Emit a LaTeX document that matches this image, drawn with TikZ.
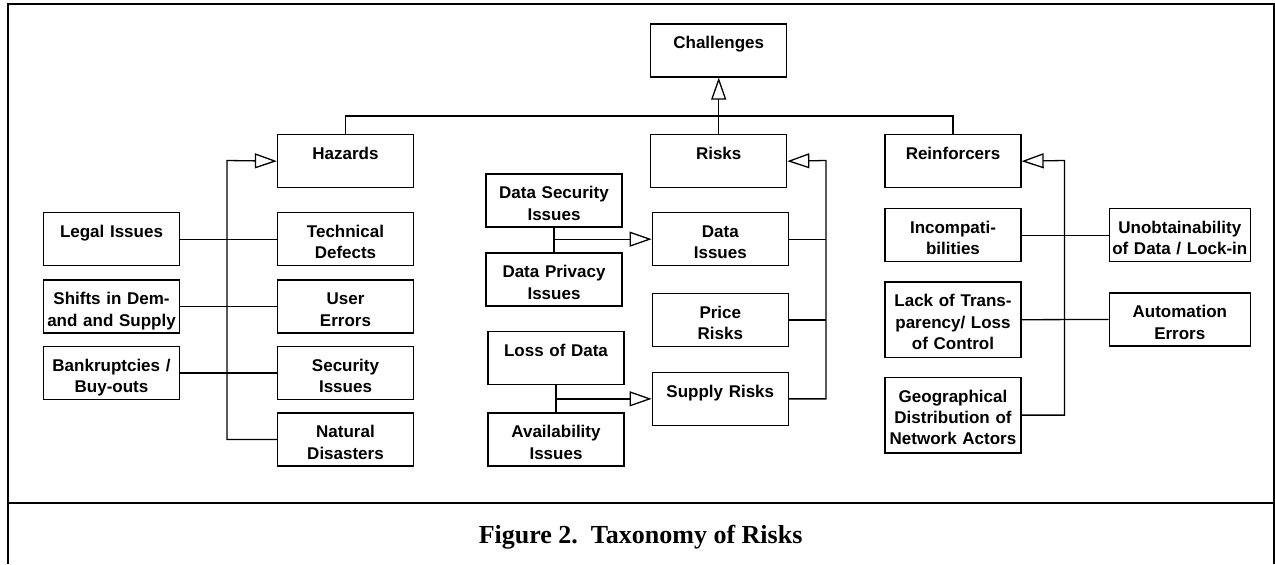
\documentclass[tikz,border=0pt]{standalone}
\usepackage{fontspec}
\setmainfont{Liberation Serif}
\newfontfamily\diagfont{Liberation Sans}
\usetikzlibrary{arrows.meta,calc}

\tikzset{
  box/.style={draw, line width=0.65pt, anchor=north, align=center,
    text width=66pt, inner xsep=1pt, inner ysep=0pt,
    text height=12.4pt, text depth=14.1pt,
    font={\diagfont\bfseries\fontsize{8.5}{10.7}\selectfont}},
  tallbox/.style={box, text depth=25.35pt},
  widebox/.style={box, text width=68.5pt},
  link/.style={line width=0.65pt},
  gen/.style={link, -{Triangle[open,length=11pt,width=7.5pt]}},
}

\begin{document}
\begin{tikzpicture}[x=0.5pt,y=-0.5pt]

  \useasboundingbox (0,0) rectangle (1275,564);

  % ramecek a popisek
  \draw[line width=1pt] (7.7,564) -- (7.7,3.7) -- (1273.5,3.7) -- (1273.5,564);
  \draw[line width=1pt] (7.7,502.8) -- (1273.5,502.8);
  \node[font={\bfseries\fontsize{13}{15}\selectfont}, anchor=base] (caption)
       at (640.6,543) {Figure 2.~~Taxonomy of Risks};

  % horni uroven
  \node[box] (challenges)  at (718.7,23.3) {Challenges};
  \node[box] (hazards)     at (345.5,134)  {Hazards};
  \node[box] (risks)       at (718.7,134)  {Risks};
  \node[box] (reinforcers) at (953,134)    {Reinforcers};

  \coordinate (bus) at (718.7,116);
  \draw[link] (hazards.north) |- (bus) -| (reinforcers.north);
  \draw[gen] (risks.north) -- (challenges.south);

  % hazards
  \node[box] (legal)     at (111.5,212)   {Legal Issues};
  \node[box] (shifts)    at (111.5,279.3) {Shifts in Dem-\\and and Supply};
  \node[box] (bankrupt)  at (111.5,345.7) {Bankruptcies /\\Buy-outs};
  \node[box] (technical) at (345.5,212)   {Technical\\Defects};
  \node[box] (user)      at (345.5,279.3) {User\\Errors};
  \node[box] (security)  at (345.5,345.7) {Security\\Issues};
  \node[box] (natural)   at (345.5,412.3) {Natural\\Disasters};

  \coordinate (hzbus) at (227,160.5);
  \draw[gen] (natural.west) -| (hzbus) -- (hazards.west);
  \draw[link] (legal.east) -- (technical.west);
  \draw[link] (shifts.east) -- (user.west);
  \draw[link] (bankrupt.east) -- (security.west);

  % risks
  \node[box] (datasec)  at (554,173.3) {Data Security\\Issues};
  \node[box] (datapriv) at (554,252.3) {Data Privacy\\Issues};
  \node[box] (loss)     at (556,330.7) {Loss of Data};
  \node[box] (avail)    at (556,412.3) {Availability\\Issues};
  \node[box] (dataiss)  at (720.3,212)   {Data\\Issues};
  \node[box] (price)    at (720.3,292.7) {Price\\Risks};
  \node[box] (supply)   at (720.3,371.7) {Supply Risks};

  \coordinate (rkbus) at (826,160.5);
  \draw[gen] (supply.east) -| (rkbus) -- (risks.east);
  \draw[link] (dataiss.east) -- (dataiss.east -| rkbus);
  \draw[link] (price.east) -- (price.east -| rkbus);

  \draw[link] (datasec.south) -- (datapriv.north);
  \draw[gen] (datasec.south |- dataiss.west) -- (dataiss.west);
  \draw[link] (loss.south) -- (avail.north);
  \draw[gen] (loss.south |- supply.west) -- (supply.west);

  % reinforcers
  \node[box]     (incomp) at (953,208)   {Incompati-\\bilities};
  \node[tallbox] (lack)   at (953,281.3) {Lack of Trans-\\parency/ Loss\\of Control};
  \node[tallbox] (geo)    at (953,376.7) {Geographical\\Distribution of\\Network Actors};
  \node[widebox] (unobt)  at (1179.8,208)   {Unobtainability\\of Data / Lock-in};
  \node[widebox] (autom)  at (1179.8,292.3) {Automation\\Errors};

  \coordinate (rfbus) at (1064.4,160.5);
  \draw[gen] (geo.east) -| (rfbus) -- (reinforcers.east);
  \draw[link] (incomp.east) -- (unobt.west);
  \draw[link] (lack.east) -- (autom.west);

\end{tikzpicture}
\end{document}
